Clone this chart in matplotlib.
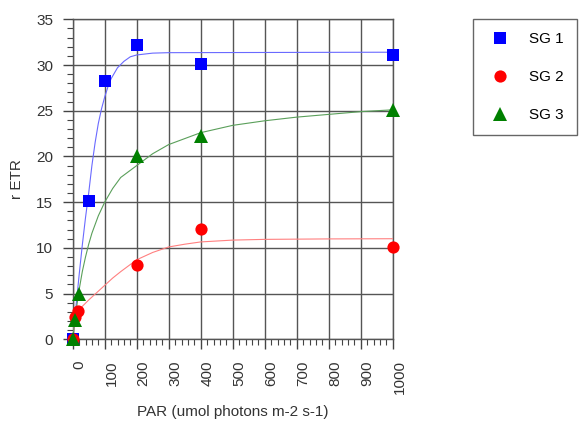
import numpy as np
import matplotlib
matplotlib.use("Agg")
import matplotlib.pyplot as plt
from matplotlib.ticker import MultipleLocator

plt.rcParams['font.family'] = ['Liberation Sans', 'DejaVu Sans']

# measured points
sg1_par = [0, 50, 100, 200, 400, 1000]
sg1_etr = [0, 15.1, 28.2, 32.2, 30.1, 31.1]
sg2_par = [0, 8, 17, 200, 400, 1000]
sg2_etr = [0, 2.4, 3.1, 8.1, 12.1, 10.1]
sg3_par = [0, 7, 20, 200, 400, 1000]
sg3_etr = [0, 2.1, 5.0, 20.0, 22.2, 25.1]

# fitted curves
fit1_par = [0, 10, 20, 30, 40, 50, 60, 70, 80, 90, 100, 110, 120, 140, 160, 180, 200, 250, 300, 1000]
fit1_etr = [0, 3.5, 7.0, 10.3, 13.3, 16.0, 19.0, 21.5, 23.6, 25.2, 26.5, 27.6, 28.5, 29.7, 30.4, 30.9, 31.1, 31.3, 31.35, 31.4]
fit2_par = [0, 5, 10, 17, 30, 50, 75, 100, 125, 150, 200, 250, 300, 350, 400, 500, 600, 800, 1000]
fit2_etr = [0, 1.5, 2.3, 3.0, 3.6, 4.3, 5.1, 5.9, 6.7, 7.4, 8.7, 9.5, 10.1, 10.4, 10.65, 10.85, 10.93, 10.98, 11.0]
fit3_par = [0, 5, 10, 20, 30, 40, 50, 60, 80, 100, 125, 150, 200, 250, 300, 400, 500, 600, 700, 800, 900, 1000]
fit3_etr = [0, 1.6, 3.0, 5.4, 7.4, 9.0, 10.4, 11.6, 13.5, 15.0, 16.5, 17.7, 19.0, 20.3, 21.3, 22.6, 23.4, 23.9, 24.3, 24.6, 24.9, 25.1]

labels = ["SG 1", "SG 2", "SG 3"]
x_ticks = [0, 100, 200, 300, 400, 500, 600, 700, 800, 900, 1000]
y_ticks = [0, 5, 10, 15, 20, 25, 30, 35]

fig = plt.figure(figsize=(5.82, 4.24), dpi=100)
ax = fig.add_axes([72.7 / 582, 1 - 339.3 / 424, 320 / 582, 320 / 424])

ax.plot(fit1_par, fit1_etr, color="#6a6aff", lw=0.8, zorder=3)
ax.plot(fit2_par, fit2_etr, color="#ff8080", lw=0.8, zorder=3)
ax.plot(fit3_par, fit3_etr, color="#5a9f5a", lw=0.8, zorder=3)

ax.plot(sg1_par, sg1_etr, "s", color="#0000ff", ms=8.6, mew=0, clip_on=False, zorder=5, label=labels[0])
ax.plot(sg2_par, sg2_etr, "o", color="#ff0000", ms=8.8, mew=0, clip_on=False, zorder=6, label=labels[1])
ax.plot(sg3_par, sg3_etr, "^", color="#008000", ms=9.5, mew=0, clip_on=False, zorder=7, label=labels[2])

ax.set_xlim(0, 1000)
ax.set_ylim(0, 35)
ax.set_xticks(x_ticks)
ax.set_yticks(y_ticks)
ax.xaxis.set_minor_locator(MultipleLocator(20))
ax.yaxis.set_minor_locator(MultipleLocator(1))
ax.grid(True, which="major", color="#555555", lw=1.0, zorder=1)
for s in ax.spines.values():
    s.set_color("#555555")
    s.set_linewidth(1.0)

ax.tick_params(which="major", length=7.2, width=1.0, color="#444444",
               labelsize=11, labelcolor="#333333")
ax.tick_params(axis="x", which="major", pad=8)
ax.tick_params(axis="y", which="major", pad=7)
ax.tick_params(which="minor", length=4, width=0.8, color="#444444")
plt.setp(ax.get_xticklabels(), rotation=90, ha="left")

ax.set_xlabel("PAR (umol photons m-2 s-1)", fontsize=11, color="#333333", va="center")
ax.set_ylabel("r ETR", fontsize=11, color="#333333", va="center")
ax.xaxis.set_label_coords(0.5, (339.3 - 412) / 320)
ax.yaxis.set_label_coords((17 - 72.7) / 320, 0.5)

fig.legend(loc="upper left", bbox_to_anchor=(473 / 582, 1 - 19 / 424),
           bbox_transform=fig.transFigure, borderaxespad=0, fontsize=11,
           frameon=True, fancybox=False, shadow=False, framealpha=1,
           edgecolor="#666666", borderpad=0.85, handlelength=1.83,
           handletextpad=0.98, labelspacing=1.57, numpoints=1)

fig.savefig("out.png", dpi=100)
